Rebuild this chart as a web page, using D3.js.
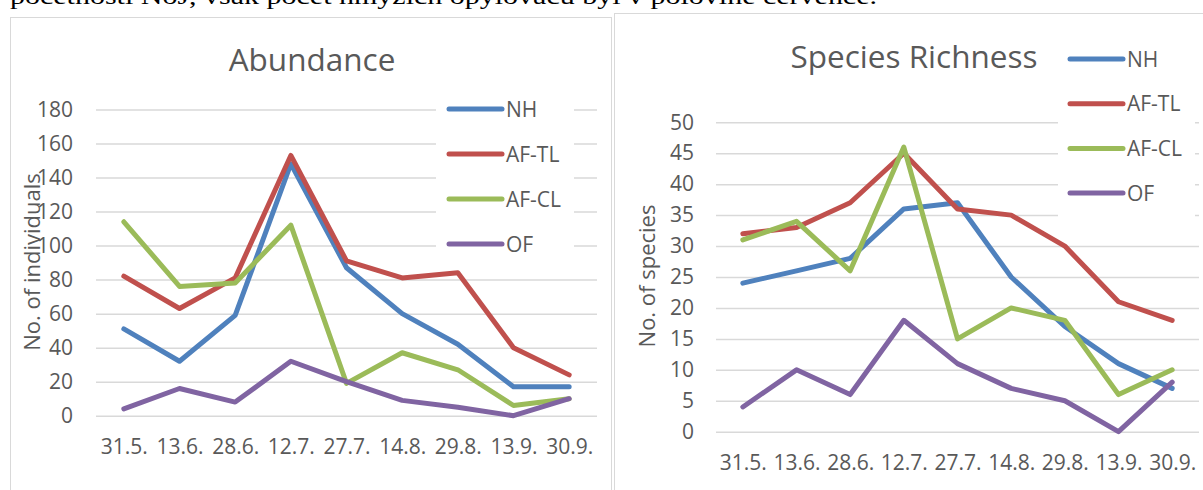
<!DOCTYPE html>
<html>
<head>
<meta charset="utf-8">
<script src="https://cdn.jsdelivr.net/npm/d3@7"></script>
<style>
  body { margin: 0; background: #fff; }
  svg { display: block; }
  text { font-family: "Open Sans", sans-serif; fill: #595959; }
</style>
</head>
<body>
<svg width="1203" height="490"></svg>
<script>
const dates = ["31.5.", "13.6.", "28.6.", "12.7.", "27.7.", "14.8.", "29.8.", "13.9.", "30.9."];
const seriesNames = ["NH", "AF-TL", "AF-CL", "OF"];
const colors = ["#4f81bd", "#c0504d", "#9bbb59", "#8064a2"];

// Abundance (no. of individuals)
const abundNH = [51, 32, 59, 148, 87, 60, 42, 17, 17];
const abundAFTL = [82, 63, 81, 153, 91, 81, 84, 40, 24];
const abundAFCL = [114, 76, 78, 112, 19, 37, 27, 6, 10];
const abundOF = [4, 16, 8, 32, 20, 9, 5, 0, 10];
const abundTicks = [0, 20, 40, 60, 80, 100, 120, 140, 160, 180];

// Species richness (no. of species)
const richNH = [24, 26, 28, 36, 37, 25, 17, 11, 7];
const richAFTL = [32, 33, 37, 45, 36, 35, 30, 21, 18];
const richAFCL = [31, 34, 26, 46, 15, 20, 18, 6, 10];
const richOF = [4, 10, 6, 18, 11, 7, 5, 0, 8];
const richTicks = [0, 5, 10, 15, 20, 25, 30, 35, 40, 45, 50];

const headText = "početnosti NoJ, však počet hmyzích opylovačů byl v polovině července.";

const svg = d3.select("svg");

// cut-off line of document text above the charts
svg.append("text")
  .attr("x", 10)
  .attr("y", 4)
  .attr("textLength", 867)
  .attr("lengthAdjust", "spacingAndGlyphs")
  .style("font-family", "'Liberation Serif', serif")
  .style("font-size", "24px")
  .style("fill", "#000")
  .text(headText);

function drawChart(cfg) {
  const g = svg.append("g");

  // chart frame
  g.append("rect")
    .attr("x", cfg.box[0] + 0.5)
    .attr("y", cfg.box[1] + 0.5)
    .attr("width", cfg.box[2])
    .attr("height", cfg.box[3])
    .attr("fill", "#fff")
    .attr("stroke", "#d9d9d9");

  const x = d3.scalePoint().domain(dates).range([cfg.left, cfg.right]).padding(0.5);
  const y = d3.scaleLinear().domain([0, d3.max(cfg.ticks)]).range([cfg.bottom, cfg.top]);

  // gridlines
  g.append("g")
    .attr("transform", `translate(${cfg.left},0)`)
    .call(d3.axisLeft(y).tickValues(cfg.ticks).tickSize(-(cfg.right - cfg.left)).tickFormat(""))
    .call((a) => a.select(".domain").remove())
    .call((a) => a.selectAll("line").attr("stroke", "#d9d9d9").attr("stroke-width", 1.5));

  // y tick labels
  g.append("g")
    .attr("transform", `translate(${cfg.left},0)`)
    .call(d3.axisLeft(y).tickValues(cfg.ticks).tickSize(0).tickPadding(cfg.left - cfg.labelRight))
    .call((a) => a.select(".domain").remove())
    .call((a) => a.selectAll("text").style("font-size", "21px").style("fill", "#595959").style("font-family", "'Open Sans', sans-serif"));

  // x tick labels
  g.append("g")
    .attr("transform", `translate(0,${cfg.bottom})`)
    .call(d3.axisBottom(x).tickSize(0).tickPadding(23))
    .call((a) => a.select(".domain").remove())
    .call((a) => a.selectAll("text").style("font-size", "21px").style("fill", "#595959").style("font-family", "'Open Sans', sans-serif"));

  // axis title
  g.append("text")
    .attr("transform", `translate(${cfg.yTitle[0]},${cfg.yTitle[1]}) rotate(-90)`)
    .attr("text-anchor", "middle")
    .attr("dy", "0.35em")
    .style("font-size", "22px")
    .text(cfg.yLabel);

  // chart title
  g.append("text")
    .attr("x", cfg.title[0])
    .attr("y", cfg.title[1])
    .attr("text-anchor", "middle")
    .style("font-size", "31.5px")
    .text(cfg.titleText);

  const line = d3.line()
    .x((d, i) => x(dates[i]))
    .y((d) => y(d));

  g.selectAll(".series")
    .data(cfg.series)
    .enter()
    .append("path")
    .attr("class", "series")
    .attr("d", (d) => line(d))
    .attr("fill", "none")
    .attr("stroke", (d, i) => colors[i])
    .attr("stroke-width", 5)
    .attr("stroke-linejoin", "round")
    .attr("stroke-linecap", "round");

  // legend
  const lg = g.append("g");
  lg.append("rect")
    .attr("x", cfg.legendBox[0])
    .attr("y", cfg.legendBox[1])
    .attr("width", cfg.legendBox[2])
    .attr("height", cfg.legendBox[3])
    .attr("fill", "#fff");

  const items = lg.selectAll(".item")
    .data(seriesNames)
    .enter()
    .append("g")
    .attr("transform", (d, i) => `translate(${cfg.legend[0]},${cfg.legend[1] + i * cfg.legend[2]})`);

  items.append("line")
    .attr("x1", 0)
    .attr("x2", 53)
    .attr("stroke", (d, i) => colors[i])
    .attr("stroke-width", 5)
    .attr("stroke-linecap", "round");

  items.append("text")
    .attr("x", 57)
    .attr("dy", "0.36em")
    .style("font-size", "21px")
    .text((d) => d);
}

drawChart({
  box: [10, 17, 601, 490],
  left: 96, right: 597, top: 109.5, bottom: 415.7, labelRight: 73,
  ticks: abundTicks,
  series: [abundNH, abundAFTL, abundAFCL, abundOF],
  yLabel: "No. of individuals", yTitle: [32, 262],
  titleText: "Abundance", title: [312, 71],
  legendBox: [436, 86, 138, 180],
  legend: [449, 109, 45]
});

drawChart({
  box: [614, 13, 600, 490],
  left: 716, right: 1199, top: 122.3, bottom: 431.7, labelRight: 694,
  ticks: richTicks,
  series: [richNH, richAFTL, richAFCL, richOF],
  yLabel: "No. of species", yTitle: [647, 276],
  titleText: "Species Richness", title: [914, 68],
  legendBox: [1058, 36, 137, 186],
  legend: [1070, 59, 44.7]
});
</script>
</body>
</html>
